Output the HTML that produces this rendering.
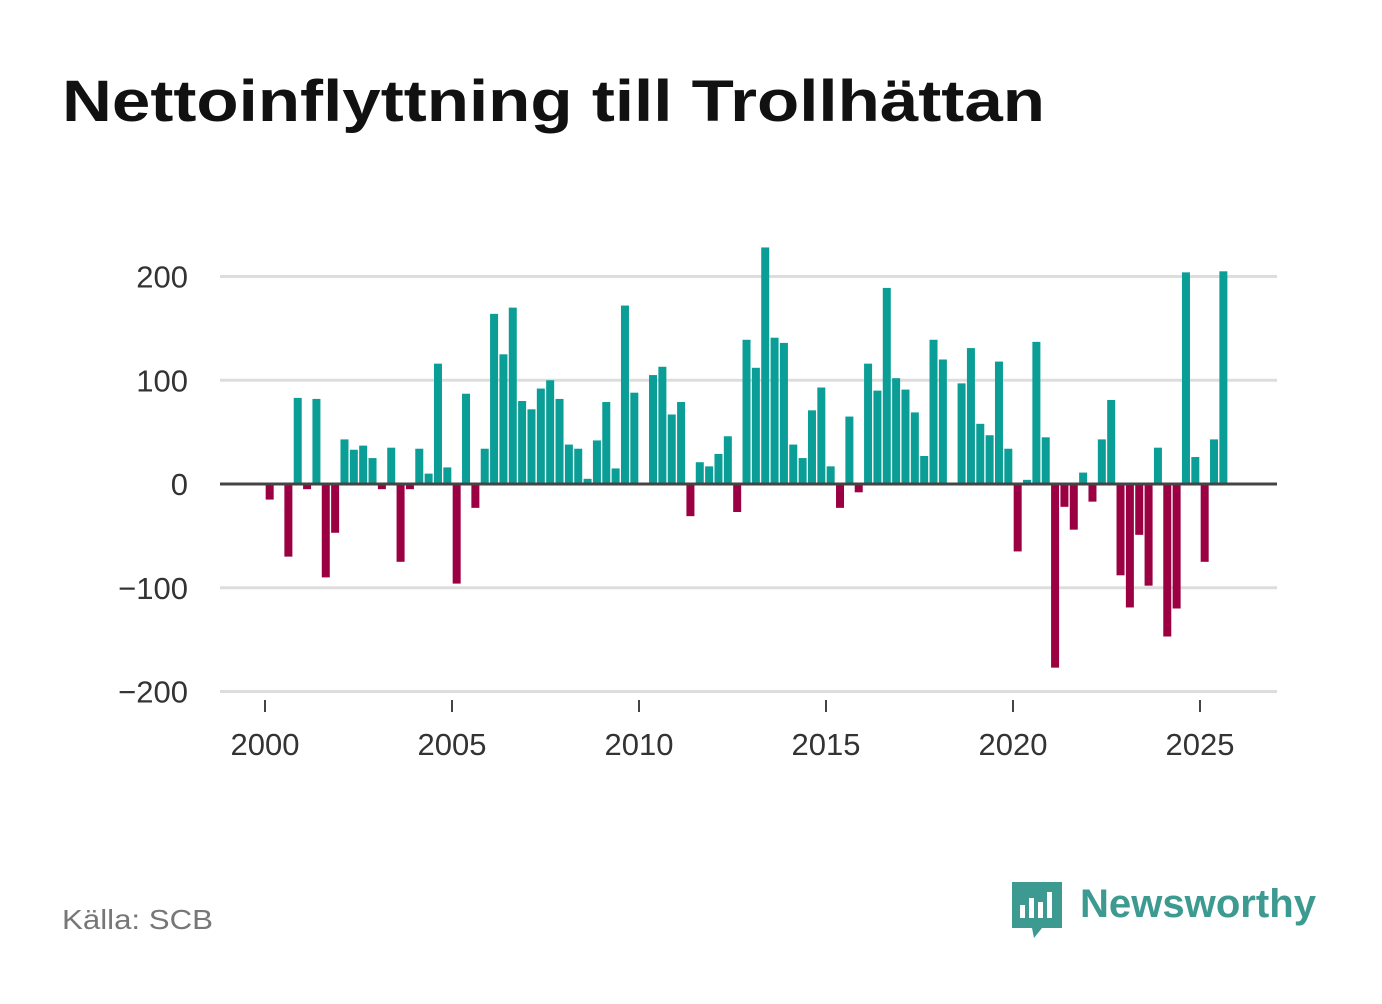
<!DOCTYPE html>
<html><head><meta charset="utf-8"><style>
body{margin:0;background:#fff;width:1382px;height:999px;overflow:hidden;font-family:"Liberation Sans",sans-serif}
</style></head><body>
<svg width="1382" height="999" viewBox="0 0 1382 999">
<text x="62" y="121" font-size="58" font-weight="bold" fill="#111" textLength="983" lengthAdjust="spacingAndGlyphs">Nettoinflyttning till Trollhättan</text>
<g id="grid"></g><g id="bars"></g><g id="axes"></g>
<text x="62" y="929" font-size="28" fill="#777" textLength="151" lengthAdjust="spacingAndGlyphs">Källa: SCB</text>
<g>
<path d="M1012 882 h50 v46 h-20 l-8 10 l-2 -10 h-20 z" fill="#3d9a91"/>
<rect x="1020" y="905" width="5" height="13" fill="#fff"/><rect x="1029" y="898" width="5" height="20" fill="#fff"/><rect x="1038" y="902" width="5" height="16" fill="#fff"/><rect x="1047" y="892" width="5" height="26" fill="#fff"/>
<text x="1080" y="917" font-size="40" font-weight="bold" fill="#3d9a91" textLength="236" lengthAdjust="spacingAndGlyphs">Newsworthy</text>
</g>
</svg>
<script>
const years=["2000","2005","2010","2015","2020","2025"];
const yTicks=[200,100,0,-100,-200];
const values=[-15,0,-70,83,-5,82,-90,-47,43,33,37,25,-5,35,-75,-5,34,10,116,16,-96,87,-23,34,164,125,170,80,72,92,100,82,38,34,5,42,79,15,172,88,0,105,113,67,79,-31,21,17,29,46,-27,139,112,228,141,136,38,25,71,93,17,-23,65,-8,116,90,189,102,91,69,27,139,120,0,97,131,58,47,118,34,-65,4,137,45,-177,-22,-44,11,-17,43,81,-88,-119,-49,-98,35,-147,-120,204,26,-75,43,205];
const NS="http://www.w3.org/2000/svg";
const y=v=>484-v*1.0375;
const x=t=>265+(t-2000)*37.4;
function mk(tag,attrs,parent,txt){const e=document.createElementNS(NS,tag);for(const k in attrs)e.setAttribute(k,attrs[k]);if(txt!==undefined)e.textContent=txt;document.getElementById(parent).appendChild(e);return e;}
yTicks.forEach(v=>{
 const l=mk('line',{x1:220,x2:1277,y1:y(v),y2:y(v),stroke:v===0?'#444':'#ddd','stroke-width':3},v===0?'axes':'grid');
 
 
 const t=mk('text',{x:188,y:y(v)+11,'text-anchor':'end','font-size':31,fill:'#333'},'axes',v<0?'\u2212'+(-v):String(v));
 
 
});
years.forEach(s=>{
 const X=x(+s);
 const l=mk('line',{x1:X,x2:X,y1:700,y2:712,stroke:'#444','stroke-width':2},'axes');
 
 
 const t=mk('text',{x:X,y:755,'text-anchor':'middle','font-size':31,fill:'#333'},'axes',s);
 
 
});
values.forEach((v,i)=>{
 const c=x(2000+(i+0.5)/4);
 const r=mk('rect',{x:c-4,y:Math.min(y(v),y(0)),width:8,height:Math.abs(y(v)-y(0)),fill:v>=0?'#0a9e96':'#9b0042'},'bars');
 
 
});
</script>
</body></html>
